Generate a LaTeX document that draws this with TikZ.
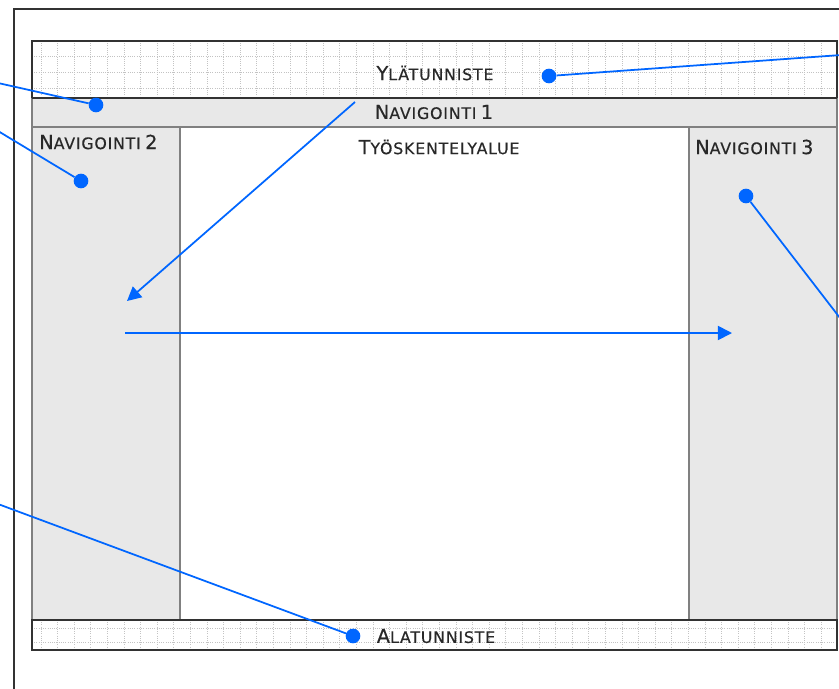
\documentclass[tikz,border=0pt]{standalone}
\usepackage{fontspec}
\setmainfont[LetterSpace=5, FakeBold=0.4]{DejaVu Sans}
\usetikzlibrary{arrows.meta}
\definecolor{linkblue}{RGB}{0,102,255}
\definecolor{navgray}{RGB}{232,232,232}
\definecolor{edgegray}{RGB}{128,128,128}
\definecolor{darkline}{RGB}{50,50,50}
\definecolor{textgray}{RGB}{40,40,40}
\definecolor{gridgray}{RGB}{195,195,195}
% Pseudo small caps
\newcommand{\capbig}[1]{{\fontsize{16.5}{18}\selectfont #1}}
\newcommand{\capsmall}[1]{{\fontsize{13.5}{16}\selectfont #1}}
\tikzset{
    % Layout area styles
    navarea/.style={fill=navgray},
    edge/.style={draw=edgegray, line width=1.6pt},
    border/.style={draw=darkline, line width=1.4pt},
    gridline/.style={draw=gridgray, line width=0.7pt, dash pattern=on 0.8pt off 1.1pt},
    % Label style
    arealabel/.style={text=textgray, inner sep=0pt},
    % Connector styles
    link/.style={draw=linkblue, line width=1.5pt},
    linkarrow/.style={link, -{Triangle[length=12pt, width=12pt]}},
    dot/.style={circle, fill=linkblue, inner sep=0pt, minimum size=12.5pt}
}
\begin{document}
\begin{tikzpicture}[x=0.03cm, y=-0.03cm]
\useasboundingbox (0,0) rectangle (839,688);

% Outer page frame
\draw[border] (14,690) -- (14,9) -- (841,9);

% Header and footer with grid
\fill[white] (32,41) rectangle (837,98);
\fill[white] (32,620) rectangle (837,650);
\foreach \gx in {41,57.6,...,836} {
    \draw[gridline] (\gx,41) -- (\gx,98);
    \draw[gridline] (\gx,620) -- (\gx,650);
}
\foreach \gy in {56,72,88,628,642} \draw[gridline] (32,\gy) -- (837,\gy);

% Navigation areas
\fill[navarea] (32,98) rectangle (837,127);
\fill[navarea] (32,127) rectangle (180,620);
\fill[navarea] (689,127) rectangle (837,620);
\draw[edge] (32,127) -- (837,127);
\draw[edge] (180,127) -- (180,620);
\draw[edge] (689,127) -- (689,620);
\draw[edge] (32,98) rectangle (837,620);
\draw[border] (32,98) -- (32,41) -- (837,41) -- (837,98);
\draw[border] (32,98) -- (837,98);
\draw[border] (32,620) rectangle (837,650);

% Area labels
\node[arealabel] (header) at (435,73) {\capbig{Y}\capsmall{LÄTUNNISTE}};
\node[arealabel] (nav1) at (434,112) {\capbig{N}\capsmall{AVIGOINTI} \capbig{1}};
\node[arealabel, anchor=west] (nav2) at (39,142) {\capbig{N}\capsmall{AVIGOINTI} \capbig{2}};
\node[arealabel] (work) at (439,147) {\capbig{T}\capsmall{YÖSKENTELYALUE}};
\node[arealabel, anchor=west] (nav3) at (695,147) {\capbig{N}\capsmall{AVIGOINTI} \capbig{3}};
\node[arealabel] (footer) at (436,636) {\capbig{A}\capsmall{LATUNNISTE}};

% Marker dots
\node[dot] (dheader) at (549,76) {};
\node[dot] (dnav1) at (96,105) {};
\node[dot] (dnav2) at (81,181) {};
\node[dot] (dnav3) at (746,196) {};
\node[dot] (dfooter) at (353,636) {};

% Free ends of connectors
\coordinate (eheader) at (841,55);
\coordinate (enav1) at (-2,83);
\coordinate (enav2) at (-2,131);
\coordinate (enav3) at (840,318);
\coordinate (efooter) at (-2,504);
\coordinate (fromnav1) at (355,102);
\coordinate (tonav2) at (127,301);
\coordinate (fromnav2) at (125,333);
\coordinate (tonav3) at (732,333);

% Connectors
\draw[link] (eheader) -- (dheader);
\draw[link] (enav1) -- (dnav1);
\draw[link] (enav2) -- (dnav2);
\draw[link] (dnav3) -- (enav3);
\draw[link] (efooter) -- (dfooter);
\draw[linkarrow] (fromnav1) -- (tonav2);
\draw[linkarrow] (fromnav2) -- (tonav3);

\end{tikzpicture}
\end{document}
